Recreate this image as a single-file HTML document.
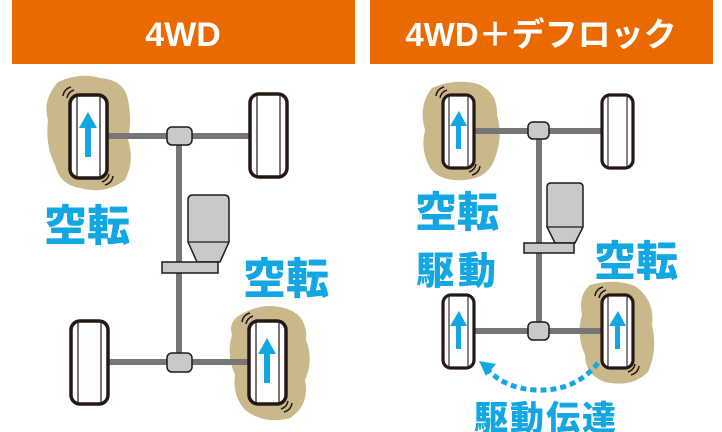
<!DOCTYPE html>
<html><head><meta charset="utf-8"><style>
html,body{margin:0;padding:0;background:#fff;width:722px;height:432px;overflow:hidden}
svg{display:block}
.h{font-family:"Liberation Sans","Noto Sans CJK JP",sans-serif;font-weight:bold;fill:#fff}
.b{font-family:"Liberation Sans","Noto Sans CJK JP",sans-serif;font-weight:900;fill:#12a6e2;stroke:#fff;stroke-width:3;paint-order:stroke}
</style></head><body>
<svg width="722" height="432" viewBox="0 0 722 432" xmlns="http://www.w3.org/2000/svg">
<defs>
<g id="tireL">
 <rect x="0" y="0" width="37" height="83" rx="9" fill="#fff" stroke="#231815" stroke-width="3.5"/>
 <line x1="7" y1="2" x2="7" y2="81" stroke="#231815" stroke-width="1.2"/>
 <line x1="30" y1="2" x2="30" y2="81" stroke="#231815" stroke-width="1.2"/>
</g>
<g id="tireS">
 <rect x="0" y="0" width="31" height="73" rx="8" fill="#fff" stroke="#231815" stroke-width="3.2"/>
 <line x1="6" y1="2" x2="6" y2="71" stroke="#231815" stroke-width="1.1"/>
 <line x1="25" y1="2" x2="25" y2="71" stroke="#231815" stroke-width="1.1"/>
</g>
</defs>
<rect x="12" y="0" width="343" height="64" fill="#ea6a00"/>
<rect x="370" y="0" width="343" height="64" fill="#ea6a00"/>
<text class="h" x="183" y="46" font-size="34" text-anchor="middle">4WD</text>
<text class="h" x="541" y="46" font-size="33" text-anchor="middle">4WD＋デフロック</text>

<!-- LEFT -->
<path d="M58 82 Q80 72 100 78 Q125 80 128 100 Q132 120 128 140 Q135 160 125 180 Q105 195 80 188 Q60 185 55 165 Q45 145 48 120 Q42 100 58 82Z" fill="#c9b98a"/>
<path d="M240 315 Q265 300 290 310 Q308 318 306 340 Q314 360 305 380 Q310 405 290 418 Q265 425 245 410 Q232 395 235 375 Q226 355 232 335 Q228 322 240 315Z" fill="#c9b98a"/>
<rect x="105" y="133" width="147" height="6" fill="#767676"/>
<rect x="105" y="359" width="147" height="6" fill="#767676"/>
<rect x="176" y="140" width="6" height="220" fill="#767676"/>
<rect x="167" y="127" width="25" height="18" rx="5" fill="#c8c9ca" stroke="#231815" stroke-width="1.5"/>
<rect x="167" y="353" width="25" height="19" rx="5" fill="#c8c9ca" stroke="#231815" stroke-width="1.5"/>
<path d="M188 200 Q188 195 193 195 L224 195 Q229 195 229 200 L229 242 L220 262 L197 262 L188 242Z" fill="#c8c9ca" stroke="#231815" stroke-width="1.5"/>
<line x1="188" y1="242" x2="229" y2="242" stroke="#231815" stroke-width="1.2"/>
<rect x="162" y="262" width="56" height="11" fill="#c8c9ca" stroke="#231815" stroke-width="1.5"/>
<use href="#tireL" x="70" y="95"/>
<use href="#tireL" x="250" y="94"/>
<use href="#tireL" x="71" y="321"/>
<use href="#tireL" x="249" y="321"/>
<path d="M88 112 L97 128 L91 128 L91 157 L85 157 L85 128 L79 128Z" fill="#12a6e2"/>
<path d="M267 338 L276 354 L270 354 L270 383 L264 383 L264 354 L258 354Z" fill="#12a6e2"/>
<g fill="none" stroke="#231815" stroke-width="1.5">
<path d="M63 96 Q64 89 71 87"/><path d="M67 98 Q68 92 74 90"/>
<path d="M113 176 Q112 183 105 185"/><path d="M109 174 Q108 180 102 182"/>
<path d="M242 322 Q243 315 250 313"/><path d="M246 324 Q247 318 253 316"/>
<path d="M292 403 Q291 410 284 412"/><path d="M288 401 Q287 407 281 409"/>
</g>
<text class="b" x="44" y="241" font-size="43">空転</text>
<text class="b" x="243" y="294" font-size="43">空転</text>

<!-- RIGHT -->
<path d="M432 88 Q455 78 478 84 Q498 92 497 115 Q503 135 496 155 Q490 178 465 180 Q440 182 430 168 Q420 150 425 130 Q418 105 432 88Z" fill="#c9b98a"/>
<path d="M590 285 Q615 278 635 286 Q655 300 652 325 Q658 350 648 372 Q632 388 605 382 Q585 375 585 355 Q576 335 582 315 Q578 295 590 285Z" fill="#c9b98a"/>
<rect x="472" y="128" width="132" height="6" fill="#767676"/>
<rect x="472" y="328" width="132" height="6" fill="#767676"/>
<rect x="536" y="135" width="6" height="195" fill="#767676"/>
<rect x="528" y="122" width="21" height="17" rx="5" fill="#c8c9ca" stroke="#231815" stroke-width="1.5"/>
<rect x="528" y="322" width="21" height="18" rx="5" fill="#c8c9ca" stroke="#231815" stroke-width="1.5"/>
<path d="M547 187 Q547 183 551 183 L579 183 Q583 183 583 187 L583 227 L575 243 L555 243 L547 227Z" fill="#c8c9ca" stroke="#231815" stroke-width="1.5"/>
<line x1="547" y1="227" x2="583" y2="227" stroke="#231815" stroke-width="1.2"/>
<rect x="524" y="243" width="50" height="10" fill="#c8c9ca" stroke="#231815" stroke-width="1.5"/>
<use href="#tireS" x="443" y="95"/>
<use href="#tireS" x="602" y="95"/>
<use href="#tireS" x="443" y="295"/>
<use href="#tireS" x="602" y="295"/>
<path d="M459 111 L467 126 L461 126 L461 149 L456 149 L456 126 L450 126Z" fill="#12a6e2"/>
<path d="M459 311 L467 326 L461 326 L461 349 L456 349 L456 326 L450 326Z" fill="#12a6e2"/>
<path d="M618 311 L626 326 L620 326 L620 349 L615 349 L615 326 L609 326Z" fill="#12a6e2"/>
<g fill="none" stroke="#231815" stroke-width="1.5">
<path d="M436 96 Q437 89 444 87"/><path d="M440 98 Q441 92 447 90"/>
<path d="M480 166 Q479 173 472 175"/><path d="M476 164 Q475 170 469 172"/>
<path d="M595 296 Q596 289 603 287"/><path d="M599 298 Q600 292 606 290"/>
<path d="M639 366 Q638 373 631 375"/><path d="M635 364 Q634 370 628 372"/>
</g>
<path d="M598 363 Q575 392 535 390 Q505 388 488 370" fill="none" stroke="#12a6e2" stroke-width="5" stroke-dasharray="6 4"/>
<path d="M479 361 L496 364 L486 376Z" fill="#12a6e2"/>
<text class="b" x="415" y="227" font-size="42">空転</text>
<text class="b" x="416" y="284" font-size="38" letter-spacing="4">駆動</text>
<text class="b" x="594" y="276" font-size="42">空転</text>
<text class="b" x="474" y="430" font-size="34" letter-spacing="2">駆動伝達</text>
</svg>
</body></html>
